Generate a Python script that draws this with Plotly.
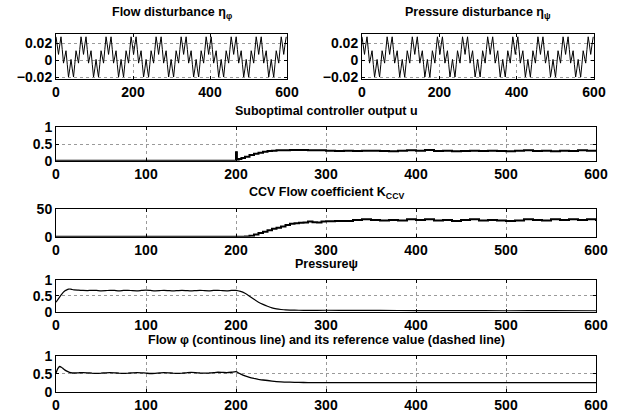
import plotly.graph_objects as go

W, H = 621, 414

# ---------------- data ----------------
# Disturbance signals (sampled every 3.25 time units); both panels show the same signal
dist_step = 3.25
eta_phi = [
    0.028, 0.0183, 0.007, 0.0183, 0.028, 0.0128, -0.0034, 0.004, 0.0114, -0.0048, -0.020, -0.0103, 0.001, -0.0103, -0.020, -0.0048, 0.0114, 0.004, -0.0034, 0.0128,
    0.028, 0.0183, 0.007, 0.0183, 0.028, 0.0128, -0.0034, 0.004, 0.0114, -0.0048, -0.020, -0.0103, 0.001, -0.0103, -0.020, -0.0048, 0.0114, 0.004, -0.0034, 0.0128,
    0.028, 0.0183, 0.007, 0.0183, 0.028, 0.0128, -0.0034, 0.004, 0.0114, -0.0048, -0.020, -0.0103, 0.001, -0.0103, -0.020, -0.0048, 0.0114, 0.004, -0.0034, 0.0128,
    0.028, 0.0183, 0.007, 0.0183, 0.028, 0.0128, -0.0034, 0.004, 0.0114, -0.0048, -0.020, -0.0103, 0.001, -0.0103, -0.020, -0.0048, 0.0114, 0.004, -0.0034, 0.0128,
    0.028, 0.0183, 0.007, 0.0183, 0.028, 0.0128, -0.0034, 0.004, 0.0114, -0.0048, -0.020, -0.0103, 0.001, -0.0103, -0.020, -0.0048, 0.0114, 0.004, -0.0034, 0.0128,
    0.028, 0.0183, 0.007, 0.0183, 0.028, 0.0128, -0.0034, 0.004, 0.0114, -0.0048, -0.020, -0.0103, 0.001, -0.0103, -0.020, -0.0048, 0.0114, 0.004, -0.0034, 0.0128,
    0.028, 0.0183, 0.007, 0.0183, 0.028, 0.0128, -0.0034, 0.004, 0.0114, -0.0048, -0.020, -0.0103, 0.001, -0.0103, -0.020, -0.0048, 0.0114, 0.004, -0.0034, 0.0128,
    0.028, 0.0183, 0.007, 0.0183, 0.028, 0.0128, -0.0034, 0.004, 0.0114, -0.0048, -0.020, -0.0103, 0.001, -0.0103, -0.020, -0.0048, 0.0114, 0.004, -0.0034, 0.0128,
    0.028, 0.0183, 0.007, 0.0183, 0.028, 0.0128, -0.0034, 0.004, 0.0114, -0.0048, -0.020, -0.0103, 0.001, -0.0103, -0.020, -0.0048, 0.0114, 0.004, -0.0034, 0.0128,
    0.028, 0.0183, 0.007, 0.0183, 0.028,
]
eta_psi = list(eta_phi)
dist_time = [i * dist_step for i in range(len(eta_phi))]

# Suboptimal controller output u
u_time = [0, 199.5, 200, 201, 203, 206, 210, 215, 220, 225, 230, 235, 240, 245] + list(range(250, 601, 10))
u_vals = [0, 0, 0.25, 0.03, 0.05, 0.08, 0.12, 0.17, 0.21, 0.24, 0.27, 0.29, 0.30, 0.31,
          0.31, 0.32, 0.32, 0.31, 0.31, 0.30, 0.29, 0.30, 0.29, 0.30,
          0.30, 0.29, 0.28, 0.30, 0.31, 0.30, 0.32, 0.29, 0.30, 0.28,
          0.29, 0.30, 0.29, 0.30, 0.29, 0.28, 0.30, 0.31, 0.29, 0.30,
          0.28, 0.30, 0.29, 0.31, 0.30, 0.28]

# CCV flow coefficient K_CCV
k_time = [0, 205, 210, 215, 220, 225, 230, 235, 240, 245, 250, 255, 260, 265, 270, 275, 280, 285, 290, 295] + list(range(300, 601, 10))
k_vals = [0, 0, 0.5, 1.5, 4, 6.5, 9, 11.5, 14, 16, 18, 21, 23, 24, 25, 25.5, 27, 26, 25.5, 27,
          27.5, 28, 28, 30, 31, 30, 29, 30, 29, 31,
          30, 31, 29, 30, 28, 30, 31, 29, 30, 29,
          28, 29, 31, 30, 29, 31, 30, 31, 30, 31,
          28]

# Pressure psi
psi_time = [0, 2, 4, 6, 8, 10, 12, 14, 16, 18] + list(range(20, 201, 5)) + \
           [205, 210, 215, 220, 225, 230, 235, 240, 245, 250, 255, 260, 270, 280, 300, 330, 360, 400, 450, 500, 550, 600]
psi_vals = [0.30, 0.38, 0.46, 0.54, 0.61, 0.66, 0.69, 0.71, 0.715, 0.70,
            0.69, 0.68, 0.67, 0.665, 0.675, 0.67, 0.66, 0.665, 0.675, 0.67,
            0.66, 0.67, 0.675, 0.665, 0.66, 0.67, 0.68, 0.67, 0.66, 0.665,
            0.675, 0.665, 0.655, 0.665, 0.675, 0.665, 0.655, 0.665, 0.675, 0.665,
            0.66, 0.67, 0.675, 0.665, 0.66, 0.67, 0.675,
            0.64, 0.58, 0.49, 0.39, 0.30, 0.23, 0.17, 0.12, 0.09, 0.07, 0.055, 0.05,
            0.045, 0.04, 0.045, 0.04, 0.04, 0.035, 0.035, 0.03, 0.035, 0.03]

# Flow phi
phi_time = [0, 2, 4, 6, 8, 10, 12, 15, 18] + list(range(20, 201, 5)) + \
           [203, 206, 210, 215, 220, 225, 230, 240, 250, 260, 270, 280, 290, 300, 600]
phi_vals = [0.52, 0.64, 0.70, 0.68, 0.64, 0.60, 0.57, 0.535, 0.52,
            0.52, 0.525, 0.53, 0.525, 0.515, 0.51, 0.515, 0.525, 0.53, 0.525,
            0.515, 0.51, 0.515, 0.525, 0.53, 0.525, 0.515, 0.505, 0.51, 0.52,
            0.53, 0.525, 0.515, 0.51, 0.515, 0.525, 0.535, 0.53, 0.52, 0.515,
            0.52, 0.53, 0.54, 0.535, 0.53, 0.54, 0.555,
            0.52, 0.48, 0.44, 0.40, 0.37, 0.345, 0.325, 0.295, 0.275, 0.265, 0.258, 0.254, 0.252, 0.25, 0.25]

# Tick labels
x_ticks_small = [0, 200, 400, 600]
x_ticks_wide = [0, 100, 200, 300, 400, 500, 600]
dist_yticks = [-0.02, 0, 0.02]
dist_ytext = ["\u22120.02", "0", "0.02"]
unit_yticks = [0, 0.5, 1]
unit_ytext = ["0", "0.5", "1"]
k_yticks = [0, 50]
k_ytext = ["0", "50"]

titles = ["Flow disturbance \u03b7<sub>\u03c6</sub>",
          "Pressure disturbance \u03b7<sub>\u03c8</sub>",
          "Suboptimal controller output u",
          "CCV Flow coefficient K<sub>CCV</sub>",
          "Pressure\u03c8",
          "Flow \u03c6 (continous line) and its reference value (dashed line)"]

# ---------------- layout helpers ----------------
FONT = "Liberation Sans, Arial, Helvetica, sans-serif"
tickfont = dict(family=FONT, size=14, color="black")


def xd(x0, x1):
    return [x0 / W, x1 / W]


def yd(top, bottom):
    return [1 - bottom / H, 1 - top / H]


def bold(labels):
    return ["<b>%s</b>" % t for t in labels]


def axis_common():
    return dict(showline=True, mirror="ticks", linecolor="black", linewidth=1,
                ticks="inside", ticklen=3, tickcolor="black",
                showgrid=True, gridcolor="#9a9a9a", griddash="dot", gridwidth=1,
                zeroline=False, tickfont=tickfont, fixedrange=True, automargin=False)


panels = [
    # (x domain px, y domain px, yrange, yticks, ytext, xticks)
    ((56, 287), (34.3, 79.3), [-0.0227, 0.031], dist_yticks, dist_ytext, x_ticks_small),
    ((362, 594), (34.3, 79.3), [-0.0227, 0.031], dist_yticks, dist_ytext, x_ticks_small),
    ((56, 596), (127.3, 160.7), [0, 1], unit_yticks, unit_ytext, x_ticks_wide),
    ((56, 596), (208.7, 236.7), [0, 50], k_yticks, k_ytext, x_ticks_wide),
    ((56, 596), (280, 311.7), [0, 1], unit_yticks, unit_ytext, x_ticks_wide),
    ((56, 596), (355.7, 391.7), [0, 1], unit_yticks, unit_ytext, x_ticks_wide),
]

layout = dict(width=W, height=H, autosize=False,
              margin=dict(l=0, r=0, t=0, b=0, pad=0),
              paper_bgcolor="white", plot_bgcolor="white",
              showlegend=False, font=dict(family=FONT, color="black"))

for i, (xpx, ypx, yr, ytv, ytt, xtv) in enumerate(panels, start=1):
    sfx = "" if i == 1 else str(i)
    xa = axis_common()
    xa.update(domain=xd(*xpx), anchor="y" + sfx, range=[0, 600],
              tickvals=xtv, ticktext=bold([str(v) for v in xtv]))
    ya = axis_common()
    ya.update(domain=yd(*ypx), anchor="x" + sfx, range=yr,
              tickvals=ytv, ticktext=bold(ytt))
    layout["xaxis" + sfx] = xa
    layout["yaxis" + sfx] = ya

fig = go.Figure(layout=layout)

line_thin = dict(color="black", width=1)
fig.add_trace(go.Scatter(x=dist_time, y=eta_phi, mode="lines", line=line_thin, xaxis="x", yaxis="y"))
fig.add_trace(go.Scatter(x=dist_time, y=eta_psi, mode="lines", line=line_thin, xaxis="x2", yaxis="y2"))
fig.add_trace(go.Scatter(x=u_time, y=u_vals, mode="lines", line=dict(color="black", width=2, shape="hv"),
                         xaxis="x3", yaxis="y3", cliponaxis=False))
fig.add_trace(go.Scatter(x=k_time, y=k_vals, mode="lines", line=dict(color="black", width=2, shape="hv"),
                         xaxis="x4", yaxis="y4", cliponaxis=False))
fig.add_trace(go.Scatter(x=psi_time, y=psi_vals, mode="lines",
                         line=dict(color="black", width=1.2, shape="spline", smoothing=0.5),
                         xaxis="x5", yaxis="y5"))
fig.add_trace(go.Scatter(x=phi_time, y=phi_vals, mode="lines",
                         line=dict(color="black", width=1.3, shape="spline", smoothing=0.5),
                         xaxis="x6", yaxis="y6"))

# titles (x centre px, y centre px)
title_pos = [(171.5, 13), (478, 13), (326, 111), (326, 193), (326, 264), (326, 340)]
for txt, (cx, cy) in zip(titles, title_pos):
    fig.add_annotation(text="<b>%s</b>" % txt, x=cx / W, y=1 - cy / H, xref="paper", yref="paper",
                       xanchor="center", yanchor="middle", showarrow=False,
                       font=dict(family=FONT, size=12.5, color="black"))

fig.write_html("out.html", config={"displayModeBar": False, "staticPlot": True},
               post_script="document.body.style.margin='0';document.body.style.overflow='hidden';")
